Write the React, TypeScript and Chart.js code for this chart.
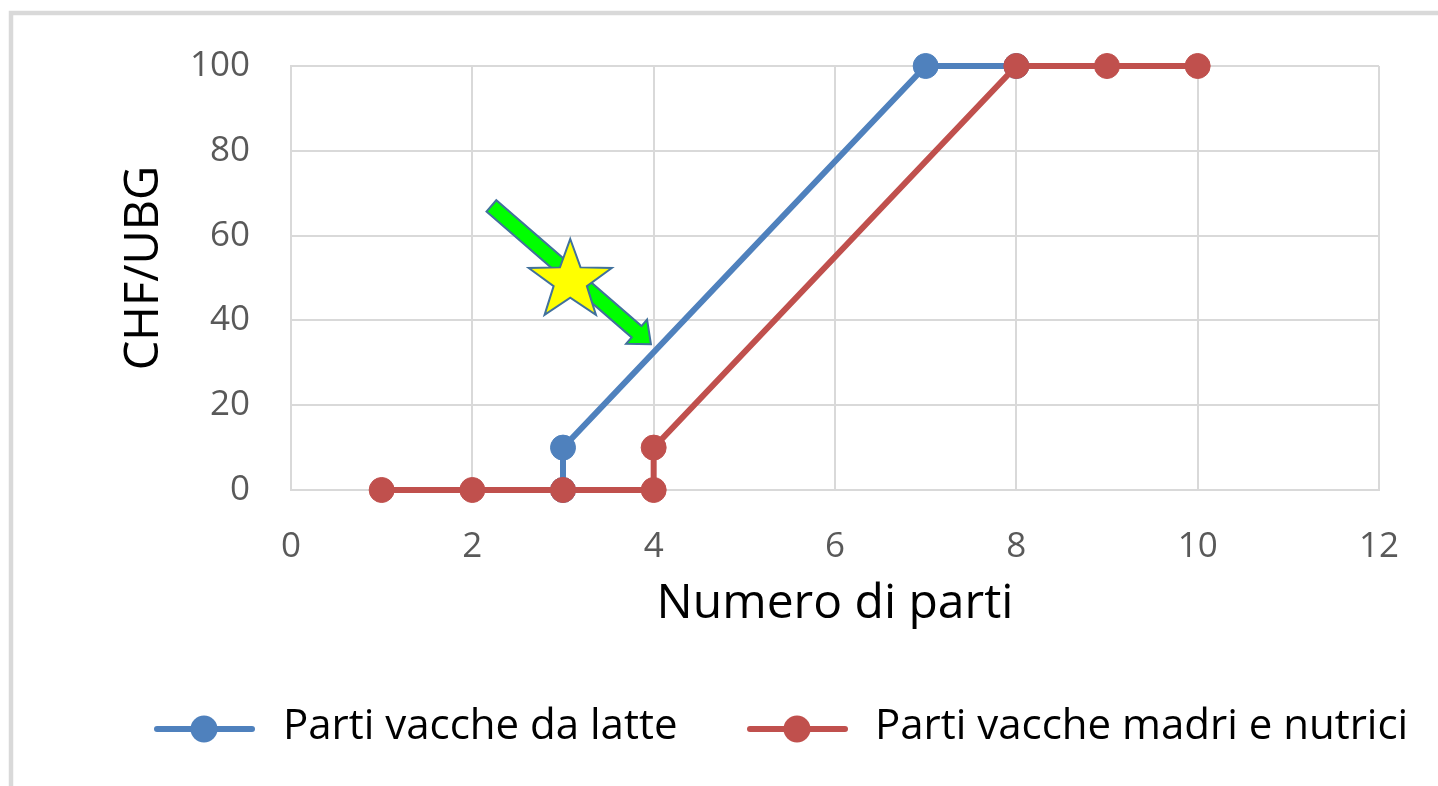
import React, { useEffect, useRef } from "react";
import { Chart, registerables } from "chart.js";
Chart.register(...registerables);

// ---- data ----
const xTickStep = 2;
const xMin = 0;
const xMax = 12;
const yTickStep = 20;
const yMin = 0;
const yMax = 100;
const dairyX = [3, 3, 7, 8];
const dairyY = [0, 10, 100, 100];
const sucklerX = [1, 2, 3, 4, 4, 8, 9, 10];
const sucklerY = [0, 0, 0, 0, 10, 100, 100, 100];
const seriesNames = ["Parti vacche da latte", "Parti vacche madri e nutrici"];
const xTitle = "Numero di parti";
const yTitle = "CHF/UBG";
// annotation anchors in data units
const arrowFrom = [2.21, 67];
const arrowTo = [3.97, 34.4];
const starAt = [3.08, 49.3];

const BLUE = "#4f81bd";
const RED = "#c0504d";
const GRID = "#d9d9d9";
const TICK = "#595959";
const FONT = "'Open Sans', 'DejaVu Sans', sans-serif";

const framePlugin = {
  id: "frame",
  beforeDraw(chart: any) {
    const ctx = chart.ctx;
    ctx.save();
    ctx.fillStyle = "#ffffff";
    ctx.fillRect(0, 0, chart.width, chart.height);
    ctx.strokeStyle = "#d9d9d9";
    ctx.lineWidth = 4.5;
    ctx.strokeRect(11, 13, chart.width + 40, chart.height + 40);
    ctx.restore();
  },
};

const annotationPlugin = {
  id: "annot",
  afterDatasetsDraw(chart: any) {
    const ctx = chart.ctx;
    const xs = chart.scales.x;
    const ys = chart.scales.y;
    const x0 = xs.getPixelForValue(arrowFrom[0]);
    const y0 = ys.getPixelForValue(arrowFrom[1]);
    const x1 = xs.getPixelForValue(arrowTo[0]);
    const y1 = ys.getPixelForValue(arrowTo[1]);
    const dx = x1 - x0;
    const dy = y1 - y0;
    const len = Math.hypot(dx, dy);
    const ux = dx / len;
    const uy = dy / len;
    const nx = -uy;
    const ny = ux;
    const sw = 7.5;
    const hw = 16;
    const hl = 19;
    const bx = x1 - ux * hl;
    const by = y1 - uy * hl;
    ctx.save();
    ctx.beginPath();
    ctx.moveTo(x0 + nx * sw, y0 + ny * sw);
    ctx.lineTo(bx + nx * sw, by + ny * sw);
    ctx.lineTo(bx + nx * hw, by + ny * hw);
    ctx.lineTo(x1, y1);
    ctx.lineTo(bx - nx * hw, by - ny * hw);
    ctx.lineTo(bx - nx * sw, by - ny * sw);
    ctx.lineTo(x0 - nx * sw, y0 - ny * sw);
    ctx.closePath();
    ctx.fillStyle = "#00ff00";
    ctx.fill();
    ctx.strokeStyle = "#41719c";
    ctx.lineWidth = 2;
    ctx.lineJoin = "miter";
    ctx.stroke();

    // star
    const cx = xs.getPixelForValue(starAt[0]);
    const cy = ys.getPixelForValue(starAt[1]);
    const R = 42;
    const r = R * 0.4;
    ctx.beginPath();
    for (let i = 0; i < 10; i++) {
      const a = -Math.PI / 2 + (i * Math.PI) / 5;
      const rad = i % 2 === 0 ? R : r;
      const px = cx + Math.cos(a) * rad * 1.04;
      const py = cy + Math.sin(a) * rad;
      if (i === 0) ctx.moveTo(px, py);
      else ctx.lineTo(px, py);
    }
    ctx.closePath();
    ctx.fillStyle = "#ffff00";
    ctx.fill();
    ctx.strokeStyle = "#41719c";
    ctx.lineWidth = 2;
    ctx.stroke();
    ctx.restore();
  },
};

const legendPlugin = {
  id: "customLegend",
  afterDraw(chart: any) {
    const ctx = chart.ctx;
    // y-axis title (drawn here so its vertical position matches)
    ctx.save();
    ctx.translate(145, 268);
    ctx.rotate(-Math.PI / 2);
    ctx.fillStyle = "#000000";
    ctx.font = `47px ${FONT}`;
    ctx.textAlign = "center";
    ctx.textBaseline = "middle";
    ctx.fillText(yTitle, 0, 0);
    ctx.restore();

    const items = [
      { color: BLUE, l0: 157, l1: 252, m: 204, tx: 283 },
      { color: RED, l0: 750, l1: 845, m: 797, tx: 875 },
    ];
    const y = 729;
    ctx.save();
    items.forEach((it, i) => {
      ctx.strokeStyle = it.color;
      ctx.lineWidth = 6;
      ctx.lineCap = "round";
      ctx.beginPath();
      ctx.moveTo(it.l0, y);
      ctx.lineTo(it.l1, y);
      ctx.stroke();
      ctx.fillStyle = it.color;
      ctx.beginPath();
      ctx.arc(it.m, y, 13.5, 0, Math.PI * 2);
      ctx.fill();
      ctx.fillStyle = "#000000";
      ctx.font = `42px ${FONT}`;
      ctx.textBaseline = "middle";
      ctx.textAlign = "left";
      ctx.fillText(seriesNames[i], it.tx, y - 2);
    });
    ctx.restore();
  },
};

export default function App() {
  const ref = useRef<HTMLCanvasElement | null>(null);
  useEffect(() => {
    if (!ref.current) return;
    const toPts = (xs: number[], ys: number[]) => xs.map((x, i) => ({ x, y: ys[i] }));
    const common = {
      borderWidth: 6,
      pointRadius: 12.5,
      pointBorderWidth: 1,
      tension: 0,
      clip: false,
    };
    const chart = new Chart(ref.current, {
      type: "line",
      data: {
        datasets: [
          {
            label: seriesNames[0],
            data: toPts(dairyX, dairyY),
            borderColor: BLUE,
            backgroundColor: BLUE,
            pointBackgroundColor: BLUE,
            pointBorderColor: BLUE,
            order: 1,
            ...common,
          },
          {
            label: seriesNames[1],
            data: toPts(sucklerX, sucklerY),
            borderColor: RED,
            backgroundColor: RED,
            pointBackgroundColor: RED,
            pointBorderColor: RED,
            order: 0,
            ...common,
          },
        ],
      },
      options: {
        responsive: false,
        animation: false,
        layout: { padding: { left: 160, top: 66, right: 59, bottom: 149 } },
        plugins: { legend: { display: false }, tooltip: { enabled: false } },
        scales: {
          x: {
            type: "linear",
            min: xMin,
            max: xMax,
            ticks: {
              stepSize: xTickStep,
              color: TICK,
              font: { family: FONT, size: 35 },
              padding: 36,
            },
            grid: { color: GRID, lineWidth: 2, drawTicks: false },
            border: { color: GRID, width: 2 },
            title: {
              display: true,
              text: xTitle,
              color: "#000000",
              font: { family: FONT, size: 48 },
              padding: { top: 4, bottom: 4 },
            },
            afterFit(scale: any) {
              scale.height = 147;
            },
          },
          y: {
            min: yMin,
            max: yMax,
            ticks: {
              stepSize: yTickStep,
              color: TICK,
              font: { family: FONT, size: 35 },
              padding: 41,
            },
            grid: { color: GRID, lineWidth: 2, drawTicks: false },
            border: { color: GRID, width: 2 },
            title: { display: false },
            afterFit(scale: any) {
              scale.width = 131;
            },
          },
        },
      },
      plugins: [framePlugin, annotationPlugin, legendPlugin],
    } as any);
    return () => chart.destroy();
  }, []);
  return (
    <div style={{ position: "fixed", left: 0, top: 0, width: 1438, height: 786, background: "#fff" }}>
      <canvas ref={ref} width={1438} height={786} style={{ display: "block" }} />
    </div>
  );
}
